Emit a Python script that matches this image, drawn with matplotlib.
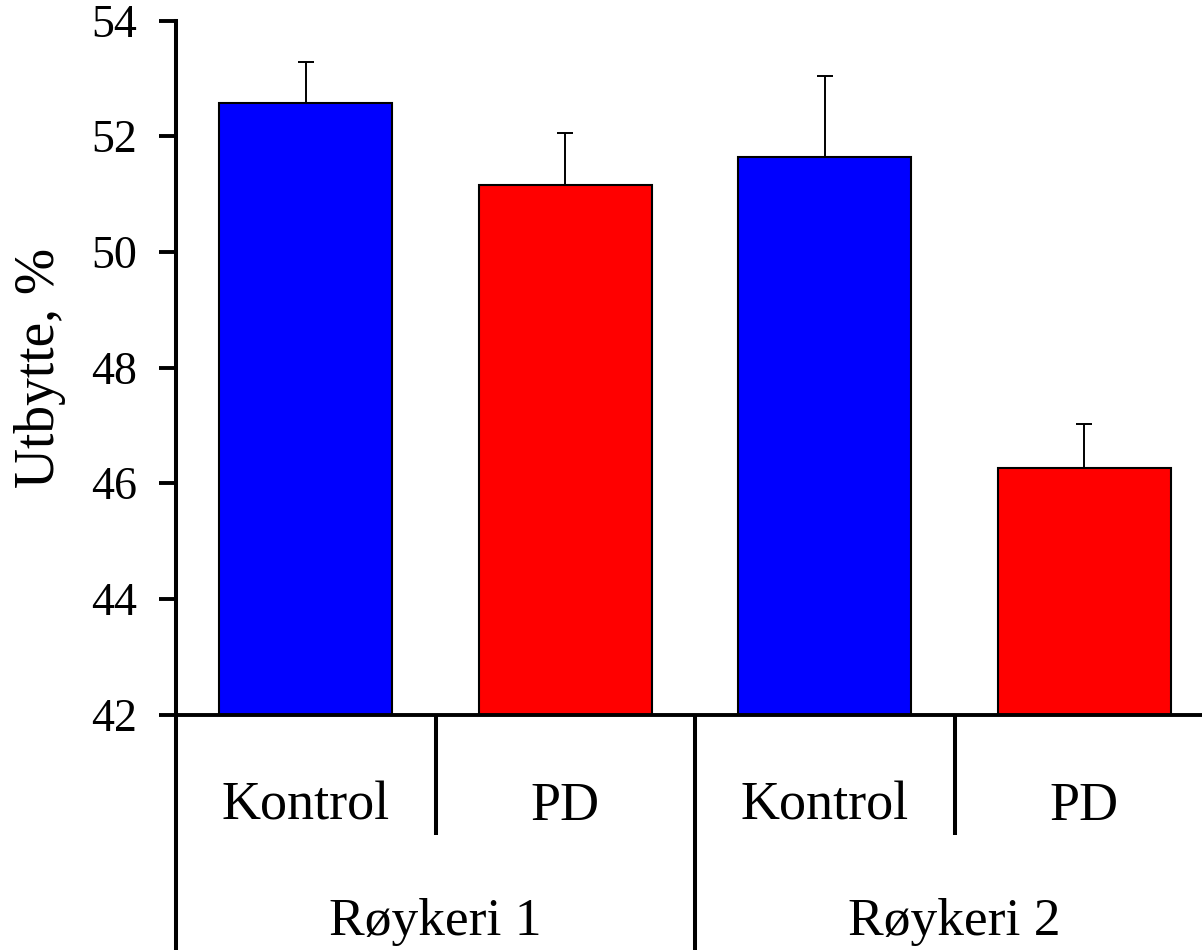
import matplotlib
matplotlib.use("Agg")
import matplotlib.pyplot as plt
import matplotlib.transforms as mtransforms

# data
treatments = ["Kontrol", "PD", "Kontrol", "PD"]
smokehouses = ["Røykeri 1", "Røykeri 2"]
yield_pct = [52.58, 51.16, 51.64, 46.26]
yield_err = [0.70, 0.90, 1.40, 0.76]
bar_colors = ["#0000ff", "#ff0000", "#0000ff", "#ff0000"]
yticks = [42, 44, 46, 48, 50, 52, 54]

plt.rcParams['font.family'] = ['Liberation Serif', 'DejaVu Serif']

fig = plt.figure(figsize=(12.02, 9.5), dpi=100)
# axes is a bit wider than the figure, the right end is cut off like in the original
ax = fig.add_axes([176 / 1202, 235.5 / 950, 1038 / 1202, 694 / 950])

x = [i + 0.5 for i in range(len(treatments))]
ax.bar(x, yield_pct, width=0.667, color=bar_colors, edgecolor="black", linewidth=1.5, zorder=2)
ax.errorbar(x, yield_pct, yerr=[[0] * len(yield_err), yield_err], fmt="none",
            ecolor="black", elinewidth=1.4, capsize=6, capthick=1.4, zorder=3)

ax.set_ylim(42, 54)
ax.set_xlim(0, 4)
ax.set_yticks(yticks)
ax.set_xticks([])
ax.tick_params(axis="y", direction="out", length=12, width=2.8, pad=16, labelsize=33)
ax.set_ylabel("Utbytte, %", fontsize=40, labelpad=18)

for s in ["top", "right"]:
    ax.spines[s].set_visible(False)
ax.spines["left"].set_linewidth(2.9)
ax.spines["bottom"].set_linewidth(2.8)

# group separators below the axis
trans = mtransforms.blended_transform_factory(ax.transData, ax.transAxes)
fig_bottom = -235.5 / 694
short_end = -120.0 / 694
for sx, end in [(0, fig_bottom), (1, short_end), (2, fig_bottom), (3, short_end)]:
    ax.plot([sx, sx], [0, end], color="black", lw=2.9, transform=trans, clip_on=False,
            solid_capstyle="butt")

for xi, name in zip(x, treatments):
    ax.text(xi, -105.5 / 694, name, transform=trans, ha="center", va="baseline", fontsize=39)
for gi, name in enumerate(smokehouses):
    ax.text(2 * gi + 1, -220.5 / 694, name, transform=trans, ha="center", va="baseline", fontsize=38.5)

fig.savefig("out.png", dpi=100)
